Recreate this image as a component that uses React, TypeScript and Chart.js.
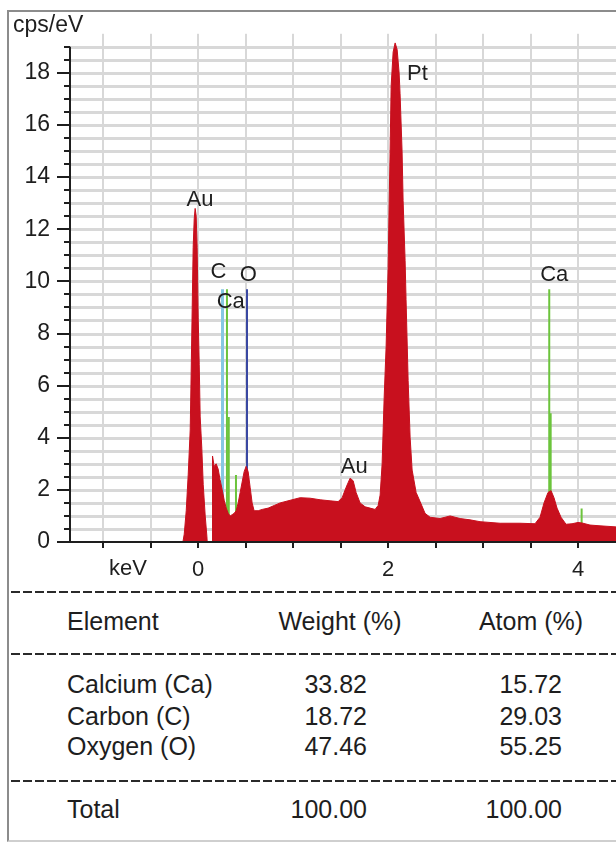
import React, { useEffect, useRef } from 'react';
import { Chart, registerables } from 'chart.js';

Chart.register(...registerables);

const FONT = '"Liberation Sans", Arial, Helvetica, sans-serif';

// EDS spectrum (energy in keV, counts in cps/eV)
const energyKeV = [
  -1.35, -0.2, -0.161, -0.147, -0.126, -0.105, -0.084, -0.074, -0.063, -0.053, -0.042, -0.032,
  -0.021, -0.011, 0.0, 0.011, 0.021, 0.038, 0.053, 0.074, 0.092, 0.095, 0.147, 0.151,
  0.168, 0.189, 0.21, 0.23, 0.253, 0.274, 0.295, 0.316, 0.337, 0.358, 0.379, 0.4,
  0.421, 0.442, 0.463, 0.484, 0.505, 0.526, 0.547, 0.568, 0.589, 0.632, 0.674, 0.737,
  0.8, 0.863, 0.968, 1.074, 1.179, 1.284, 1.389, 1.474, 1.516, 1.558, 1.6, 1.632,
  1.663, 1.705, 1.758, 1.81, 1.863, 1.895, 1.916, 1.937, 1.958, 1.979, 2.0, 2.011,
  2.021, 2.032, 2.053, 2.074, 2.095, 2.116, 2.126, 2.147, 2.158, 2.179, 2.189, 2.211,
  2.232, 2.253, 2.295, 2.337, 2.389, 2.442, 2.547, 2.653, 2.758, 2.863, 2.968, 3.179,
  3.389, 3.547, 3.6, 3.642, 3.684, 3.716, 3.747, 3.779, 3.821, 3.874, 3.937, 4.0,
  4.042, 4.126, 4.232, 4.4,
];
const countsCps = [
  0, 0, 0, 0.3, 1.2, 2.6, 4.3, 6.5, 9.0, 11.3, 12.4, 12.8,
  12.5, 11.3, 8.6, 6.8, 4.8, 3.6, 2.2, 1.0, 0.2, 0, 0, 3.3,
  2.9, 3.0, 2.8, 2.4, 2.0, 1.6, 1.3, 1.1, 1.0, 1.05, 1.1, 1.2,
  1.5, 1.9, 2.3, 2.7, 2.9, 2.7, 2.1, 1.5, 1.2, 1.2, 1.25, 1.3,
  1.4, 1.5, 1.6, 1.7, 1.68, 1.62, 1.58, 1.55, 1.7, 2.1, 2.45, 2.35,
  1.9, 1.5, 1.35, 1.3, 1.25, 1.4, 1.8, 3.0, 5.5, 7.5, 10.5, 13.0,
  15.0, 17.5, 18.8, 19.15, 18.9, 18.0, 17.2, 15.0, 13.1, 10.8, 9.3, 6.2,
  4.0, 2.76, 1.9, 1.55, 1.1, 0.95, 0.9, 1.0, 0.9, 0.85, 0.78, 0.72,
  0.72, 0.7, 0.95, 1.5, 1.9, 1.97, 1.7, 1.3, 0.95, 0.68, 0.7, 0.75,
  0.73, 0.65, 0.62, 0.58,
];

// Element marker lines
const markerElements = ['C', 'Ca', 'Ca', 'Ca', 'O', 'Ca', 'Ca', 'Ca'];
const markerEnergyKeV = [0.256, 0.303, 0.322, 0.398, 0.514, 3.697, 3.712, 4.038];
const markerHeight = [9.7, 9.7, 4.8, 2.57, 9.7, 9.7, 4.94, 1.29];

// Peak labels
const peakLabels = ['Au', 'C', 'O', 'Ca', 'Au', 'Pt', 'Ca'];
const peakLabelEnergy = [0.019, 0.212, 0.528, 0.343, 1.643, 2.309, 3.75];
const peakLabelHeight = [13.14, 10.36, 10.25, 9.21, 2.87, 17.96, 10.23];

// Axis ticks
const xTickValues = [-1, -0.5, 0, 0.5, 1, 1.5, 2, 2.5, 3, 3.5, 4];
const xTickLabels = [0, 2, 4];
const yTickLabels = [0, 2, 4, 6, 8, 10, 12, 14, 16, 18];
const yAxisTop = 19;
const yMinorStep = 0.5;

// Quantification table
const tableElements = ['Calcium (Ca)', 'Carbon (C)', 'Oxygen (O)'];
const weightPct = [33.82, 18.72, 47.46];
const atomPct = [15.72, 29.03, 55.25];
const totalWeight = 100.0;
const totalAtom = 100.0;

const markerColors: Record<string, string> = {
  C: '#86c8e2',
  Ca: '#6cc43c',
  O: '#3a48a2',
};

const RED = '#c8101e';
const GRID = '#d8d8d8';
const INK = '#1e1e1e';

function yGridValues(): number[] {
  const out: number[] = [];
  for (let v = 0; v <= yAxisTop + 1e-9; v += yMinorStep) out.push(Math.round(v * 10) / 10);
  return out;
}

const overlayPlugin = {
  id: 'overlay',
  beforeDatasetsDraw(chart: any) {
    const { ctx, chartArea, scales } = chart;
    const xs = scales.x;
    const ys = scales.y;
    ctx.save();
    ctx.fillStyle = GRID;
    for (const v of yGridValues()) {
      if (v === 0) continue;
      const py = Math.round(ys.getPixelForValue(v));
      ctx.fillRect(chartArea.left, py - 1, chartArea.right - chartArea.left, 3);
    }
    for (const v of xTickValues) {
      const px = Math.round(xs.getPixelForValue(v));
      ctx.fillRect(px - 1, chartArea.top, 2, chartArea.bottom - chartArea.top);
    }
    ctx.restore();
  },
  afterDatasetsDraw(chart: any) {
    const { ctx, chartArea, scales } = chart;
    const xs = scales.x;
    const ys = scales.y;
    const ax = chartArea.left;
    const yb = ys.getPixelForValue(0);
    ctx.save();
    ctx.strokeStyle = INK;
    ctx.lineWidth = 2;
    ctx.beginPath();
    ctx.moveTo(ax, yb + 1);
    ctx.lineTo(ax, ys.getPixelForValue(yAxisTop));
    ctx.stroke();
    ctx.beginPath();
    ctx.moveTo(ax - 1, yb);
    ctx.lineTo(chartArea.right, yb);
    ctx.stroke();
    for (const v of yGridValues()) {
      const py = Math.round(ys.getPixelForValue(v));
      const len = yTickLabels.includes(v) ? 13 : 6;
      ctx.beginPath();
      ctx.moveTo(ax - len, py);
      ctx.lineTo(ax, py);
      ctx.stroke();
    }
    for (const v of xTickValues) {
      const px = Math.round(xs.getPixelForValue(v));
      ctx.beginPath();
      ctx.moveTo(px, yb);
      ctx.lineTo(px, yb + 6);
      ctx.stroke();
    }
    ctx.restore();
  },
  afterDraw(chart: any) {
    const { ctx, scales } = chart;
    const xs = scales.x;
    const ys = scales.y;
    ctx.save();
    ctx.fillStyle = INK;
    ctx.font = `22px ${FONT}`;
    ctx.textAlign = 'center';
    ctx.textBaseline = 'middle';
    peakLabels.forEach((t, i) => {
      ctx.fillText(t, xs.getPixelForValue(peakLabelEnergy[i]), ys.getPixelForValue(peakLabelHeight[i]));
    });
    ctx.fillText('keV', xs.getPixelForValue(-0.74), ys.getPixelForValue(0) + 27);
    ctx.font = `23px ${FONT}`;
    ctx.textAlign = 'left';
    ctx.textBaseline = 'alphabetic';
    ctx.fillText('cps/eV', 13, 32);
    ctx.restore();
  },
};

export default function App() {
  const ref = useRef<HTMLCanvasElement>(null);

  useEffect(() => {
    const spectrum = {
      type: 'line' as const,
      data: energyKeV.map((e, i) => ({ x: e, y: countsCps[i] })),
      borderColor: RED,
      backgroundColor: RED,
      borderWidth: 1,
      pointRadius: 0,
      fill: 'origin',
      tension: 0,
      order: 0,
    };
    const markers = markerEnergyKeV.map((e, i) => ({
      type: 'line' as const,
      data: [
        { x: e, y: 0 },
        { x: e, y: markerHeight[i] },
      ],
      borderColor: markerColors[markerElements[i]],
      borderWidth: markerElements[i] === 'C' ? 3 : 2,
      pointRadius: 0,
      fill: false,
      order: 1,
    }));

    const chart = new Chart(ref.current as HTMLCanvasElement, {
      type: 'line',
      data: { datasets: [spectrum as any, ...(markers as any)] },
      options: {
        responsive: false,
        animation: false,
        events: [],
        layout: { padding: { top: 33, left: 0, right: 0, bottom: 0 } },
        plugins: { legend: { display: false }, tooltip: { enabled: false } },
        scales: {
          x: {
            type: 'linear',
            min: -1.35,
            max: 4.4,
            afterBuildTicks: (s: any) => {
              s.ticks = xTickValues.map((v) => ({ value: v }));
            },
            afterFit: (s: any) => {
              s.height = 48;
            },
            grid: { display: false, drawTicks: false },
            border: { display: false },
            ticks: {
              autoSkip: false,
              maxRotation: 0,
              padding: 15,
              color: INK,
              font: { family: FONT, size: 22 },
              callback: (v: any) => (xTickLabels.includes(Number(v)) ? String(v) : ''),
            },
          },
          y: {
            type: 'linear',
            min: 0,
            max: 19.5,
            afterBuildTicks: (s: any) => {
              s.ticks = yTickLabels.map((v) => ({ value: v }));
            },
            afterFit: (s: any) => {
              s.width = 70;
            },
            grid: { display: false, drawTicks: false },
            border: { display: false },
            ticks: {
              autoSkip: false,
              padding: 20,
              color: INK,
              font: { family: FONT, size: 23 },
              callback: (v: any) => String(v),
            },
          },
        },
      } as any,
      plugins: [overlayPlugin],
    });
    return () => chart.destroy();
  }, []);

  const textStyle: React.CSSProperties = {
    position: 'absolute',
    fontSize: 25,
    lineHeight: '30px',
    color: INK,
    whiteSpace: 'nowrap',
  };
  const dash = (top: number) => (
    <div
      style={{
        position: 'absolute',
        left: 11,
        right: 0,
        top,
        height: 2,
        background: `repeating-linear-gradient(90deg, #2a2a2a 0px, #2a2a2a 9px, transparent 9px, transparent 12px)`,
      }}
    />
  );
  const rowTops = [669, 701, 731];

  return (
    <div
      style={{
        position: 'absolute',
        left: 0,
        top: 0,
        width: 616,
        height: 842,
        overflow: 'hidden',
        background: '#fff',
        fontFamily: FONT,
      }}
    >
      <div
        style={{
          position: 'absolute',
          left: 7,
          top: 10,
          width: 700,
          height: 828,
          borderLeft: '2px solid #8c8c8c',
          borderTop: '2px solid #8c8c8c',
          borderBottom: '2px solid #cfcfcf',
        }}
      />
      <canvas
        ref={ref}
        width={616}
        height={590}
        style={{ position: 'absolute', left: 0, top: 0, width: 616, height: 590 }}
      />
      {dash(591)}
      {dash(653)}
      {dash(780)}
      <span style={{ ...textStyle, left: 67, top: 606 }}>Element</span>
      <span style={{ ...textStyle, left: 240, width: 200, top: 606, textAlign: 'center' }}>Weight (%)</span>
      <span style={{ ...textStyle, left: 431, width: 200, top: 606, textAlign: 'center' }}>Atom (%)</span>
      {tableElements.map((el, i) => (
        <React.Fragment key={el}>
          <span style={{ ...textStyle, left: 67, top: rowTops[i] }}>{el}</span>
          <span style={{ ...textStyle, right: 616 - 367, top: rowTops[i], textAlign: 'right' }}>
            {weightPct[i].toFixed(2)}
          </span>
          <span style={{ ...textStyle, right: 616 - 562, top: rowTops[i], textAlign: 'right' }}>
            {atomPct[i].toFixed(2)}
          </span>
        </React.Fragment>
      ))}
      <span style={{ ...textStyle, left: 67, top: 794 }}>Total</span>
      <span style={{ ...textStyle, right: 616 - 367, top: 794, textAlign: 'right' }}>{totalWeight.toFixed(2)}</span>
      <span style={{ ...textStyle, right: 616 - 562, top: 794, textAlign: 'right' }}>{totalAtom.toFixed(2)}</span>
    </div>
  );
}
